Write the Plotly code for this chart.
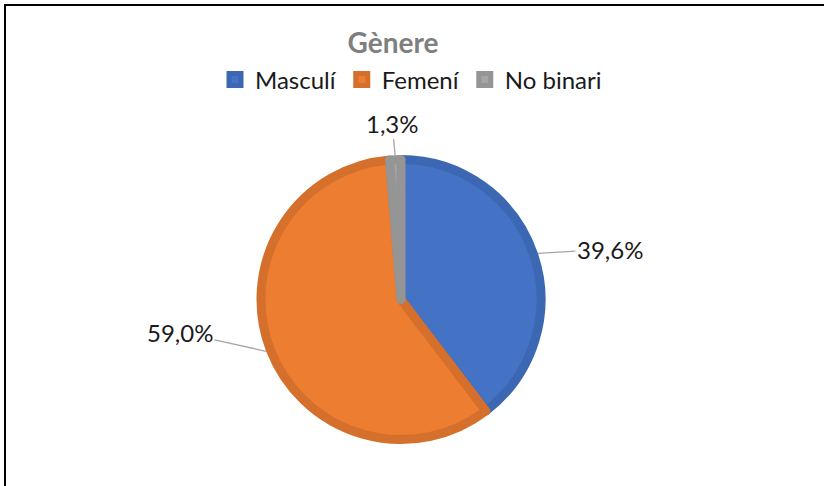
import math
import plotly.graph_objects as go

categories = ["Masculí", "Femení", "No binari"]
values = [39.6, 59.0, 1.3]
label_texts = ["39,6%", "59,0%", "1,3%"]

fill_colors = ["#4472C4", "#ED7D31", "#A5A5A5"]
edge_colors = ["#3C67B3", "#D5702C", "#959595"]

W, H = 824, 486
FONT = "Lato, 'Open Sans', sans-serif"

# pie geometry in pixels (margins are zero, so paper == page)
cx_px, cy_px, r_path, line_w = 401, 299.5, 140, 9
r_out = r_path + line_w / 2

fig = go.Figure(go.Pie(
    labels=categories,
    values=values,
    sort=False,
    direction="clockwise",
    rotation=0,
    textinfo="none",
    hoverinfo="label+value",
    marker=dict(colors=fill_colors, line=dict(color=edge_colors, width=line_w)),
    domain=dict(x=[(cx_px - r_path) / W, (cx_px + r_path) / W],
                y=[1 - (cy_px + r_path) / H, 1 - (cy_px - r_path) / H]),
    showlegend=True,
))

# label offsets (pixels) from slice edge to label centre
offsets = [(72, -4), (-86, -19), (-3, -32)]
total = sum(values)
cum = 0.0
annotations = []
for v, txt, (ax, ay) in zip(values, label_texts, offsets):
    mid = (cum + v / 2) / total * 2 * math.pi
    cum += v
    px = cx_px + r_out * math.sin(mid)
    py = cy_px - r_out * math.cos(mid)
    annotations.append(dict(
        x=px / W, y=1 - py / H, xref="paper", yref="paper",
        text=txt, showarrow=True, arrowhead=0, arrowwidth=1.3,
        arrowcolor="#A6A6A6", ax=ax, ay=ay, standoff=0,
        font=dict(family=FONT, size=24, color="#1a1a1a"),
    ))

fig.update_layout(
    width=W, height=H,
    margin=dict(l=0, r=0, t=0, b=0),
    paper_bgcolor="white",
    plot_bgcolor="white",
    title=dict(text="<b>Gènere</b>", x=393 / W, xanchor="center",
               y=1 - 43 / H, yanchor="middle",
               font=dict(family=FONT, size=28, color="#7F7F7F")),
    legend=dict(orientation="h", x=411 / W, xanchor="center",
                y=1 - 80 / H, yanchor="middle",
                font=dict(family=FONT, size=24, color="#1a1a1a"),
                itemwidth=30, tracegroupgap=0),
    annotations=annotations,
    shapes=[dict(type="rect", xref="paper", yref="paper",
                 x0=5 / W, x1=1.2, y0=-0.2, y1=1 - 5 / H,
                 line=dict(color="black", width=2))],
)

fig.write_html("out.html",
               config={"displayModeBar": False},
               post_script="document.body.style.margin='0';"
                           "document.body.style.overflow='hidden';")
